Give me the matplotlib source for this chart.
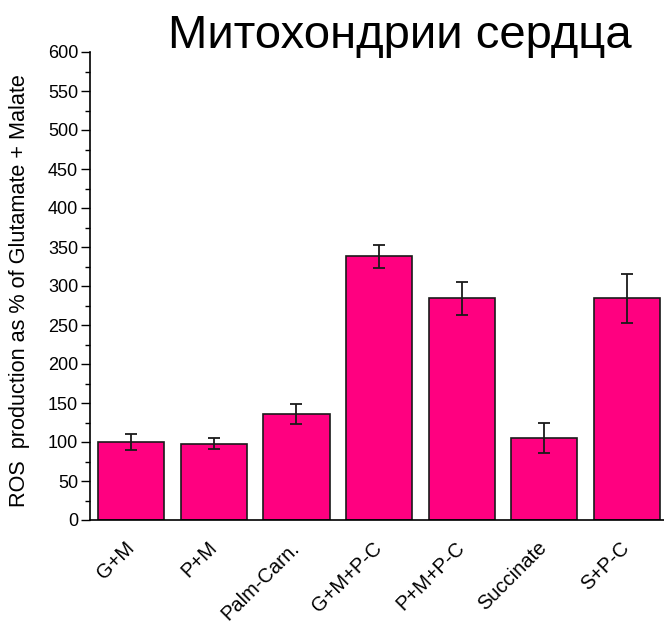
import numpy as np
import matplotlib.pyplot as plt
from matplotlib.ticker import MultipleLocator

plt.rcParams['font.family'] = ['Liberation Sans', 'DejaVu Sans']

# Данные: ROS в % от Glutamate + Malate
substrates = ["G+M", "P+M", "Palm-Carn.", "G+M+P-C", "P+M+P-C", "Succinate", "S+P-C"]
ros_mean = [100, 98, 136, 338, 284, 105, 284]
ros_err = [10, 7, 13, 15, 21, 19, 31]

fig = plt.figure(figsize=(6.64, 6.26), dpi=100)
ax = fig.add_axes([90 / 664, 106 / 626, 574 / 664, 468 / 626])

x = np.arange(1, len(substrates) + 1)
ax.bar(x, ros_mean, width=0.8, color="#FF0080", edgecolor="#1a1a1a", linewidth=1.2,
       yerr=ros_err, capsize=4, error_kw=dict(ecolor="#1a1a1a", elinewidth=1.3, capthick=1.3),
       zorder=2)

ax.set_xlim(0.5, 7.45)
ax.set_ylim(0, 600)
ax.yaxis.set_major_locator(MultipleLocator(50))
ax.yaxis.set_minor_locator(MultipleLocator(25))
ax.tick_params(axis='y', which='major', length=6.5, width=1.0, labelsize=13, pad=2)
ax.tick_params(axis='y', which='minor', length=3.6, width=1.0)

ax.set_xticks(x)
ax.set_xticklabels(substrates, rotation=45, ha='right', va='center',
                   rotation_mode='anchor', fontsize=14.5)
ax.tick_params(axis='x', length=0, pad=18)

for side in ["top", "right"]:
    ax.spines[side].set_visible(False)
ax.spines["left"].set_linewidth(1.2)
ax.spines["bottom"].set_linewidth(1.2)

ax.set_ylabel("ROS  production as % of Glutamate + Malate", fontsize=15.6)
ax.yaxis.set_label_coords(-60 / 574, 0.491)

fig.text(400 / 664, 1 - 48 / 626, "Митохондрии сердца", fontsize=34,
         ha='center', va='baseline')

fig.savefig("out.png", dpi=100)
